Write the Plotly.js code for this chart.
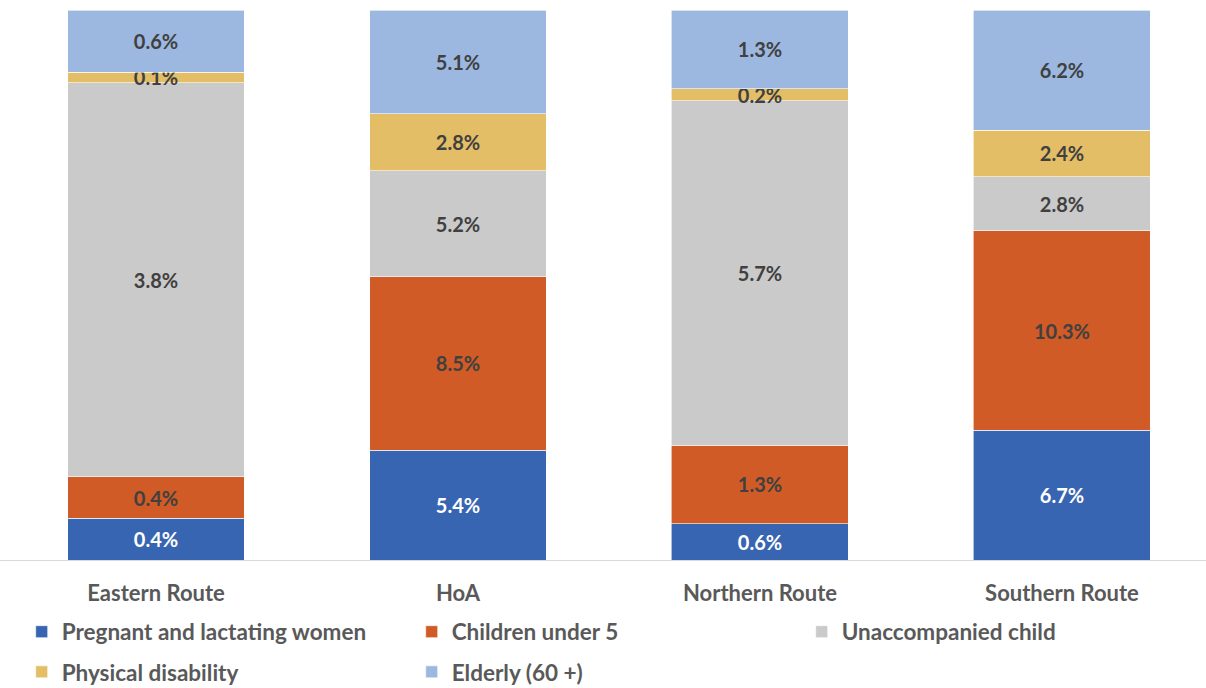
<!DOCTYPE html>
<html><head><meta charset="utf-8">
<script src="https://cdn.plot.ly/plotly-3.0.1.min.js"></script>
<style>html,body{margin:0;padding:0;background:#fff}#chart{width:1206px;height:688px}</style>
</head><body><div id="chart"></div>
<script>
const categories = ["Eastern Route", "HoA", "Northern Route", "Southern Route"];
const seriesNames = ["Pregnant and lactating women", "Children under 5", "Unaccompanied child", "Physical disability", "Elderly (60 +)"];
const pregnant = [0.4, 5.4, 0.6, 6.7];
const childrenUnder5 = [0.4, 8.5, 1.3, 10.3];
const unaccompanied = [3.8, 5.2, 5.7, 2.8];
const disability = [0.1, 2.8, 0.2, 2.4];
const elderly = [0.6, 5.1, 1.3, 6.2];

const seriesValues = [pregnant, childrenUnder5, unaccompanied, disability, elderly];
const colors = ["#3865B1", "#D15B26", "#CACACA", "#E3BE66", "#9CB8E1"];
const textColors = ["#FFFFFF", "#404040", "#404040", "#404040", "#404040"];
const legendRefs = ["legend", "legend", "legend", "legend2", "legend2"];
const FONT = "Lato, 'Open Sans', sans-serif";

const traces = seriesValues.map((vals, i) => ({
  type: "bar",
  name: seriesNames[i],
  x: categories,
  y: vals,
  text: vals.map(v => v.toFixed(1) + "%"),
  texttemplate: "%{text}",
  textposition: "inside",
  insidetextanchor: "middle",
  textangle: 0,
  constraintext: "none",
  textfont: {family: FONT, size: 20, color: textColors[i], weight: 700},
  marker: {color: colors[i], line: {color: "#FFFFFF", width: 0.6}},
  width: 0.586,
  legend: legendRefs[i],
  hoverinfo: "skip"
}));

const legendBase = {
  orientation: "h",
  xanchor: "left",
  yanchor: "middle",
  entrywidth: 345,
  entrywidthmode: "pixels",
  font: {family: FONT, size: 22.5, color: "#595959", weight: 700},
  bgcolor: "rgba(0,0,0,0)",
  traceorder: "normal",
  itemclick: false,
  itemdoubleclick: false
};

const layout = {
  width: 1206, height: 688,
  margin: {l: 0, r: 0, t: 10, b: 128, autoexpand: false},
  paper_bgcolor: "#FFFFFF",
  plot_bgcolor: "#FFFFFF",
  barmode: "stack",
  barnorm: "percent",
  showlegend: true,
  hovermode: false,
  xaxis: {
    range: [-0.5166, 3.477],
    showgrid: false,
    zeroline: false,
    showline: true,
    linecolor: "#D9D9D9",
    linewidth: 1,
    ticks: "",
    ticklabelstandoff: 14,
    tickfont: {family: FONT, size: 22, color: "#595959", weight: 700},
    fixedrange: true
  },
  yaxis: {
    range: [0, 100],
    visible: false,
    showgrid: false,
    zeroline: false,
    fixedrange: true
  },
  legend: Object.assign({}, legendBase, {x: 0.018, y: -0.131}),
  legend2: Object.assign({}, legendBase, {x: 0.018, y: -0.204})
};

Plotly.newPlot("chart", traces, layout, {displayModeBar: false, staticPlot: true});
</script>
</body></html>
